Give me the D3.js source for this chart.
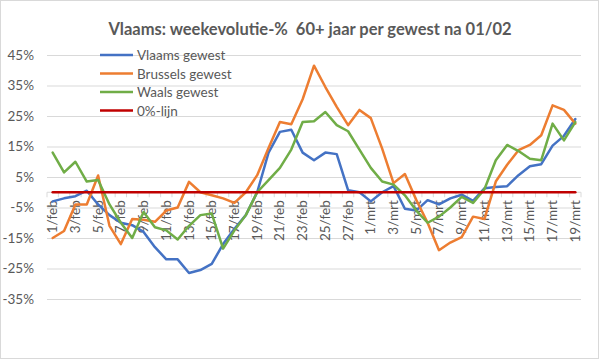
<!DOCTYPE html>
<html><head><meta charset="utf-8">
<script src="https://cdn.jsdelivr.net/npm/d3@7"></script>
<style>
html,body{margin:0;padding:0;background:#fff;}
text{font-family:Lato,"Liberation Sans",sans-serif;white-space:pre;}
</style></head>
<body>
<svg id="chart" width="599" height="359"></svg>
<script>
const categories = ["1/feb","2/feb","3/feb","4/feb","5/feb","6/feb","7/feb","8/feb","9/feb","10/feb","11/feb","12/feb","13/feb","14/feb","15/feb","16/feb","17/feb","18/feb","19/feb","20/feb","21/feb","22/feb","23/feb","24/feb","25/feb","26/feb","27/feb","28/feb","1/mrt","2/mrt","3/mrt","4/mrt","5/mrt","6/mrt","7/mrt","8/mrt","9/mrt","10/mrt","11/mrt","12/mrt","13/mrt","14/mrt","15/mrt","16/mrt","17/mrt","18/mrt","19/mrt"];
const vlaams = [-3,-2,-1.3,0.5,-4,-7.5,-10,-10.8,-13,-18,-22,-22,-26.5,-25.5,-23.5,-17,-12,-7.5,0,13,19.8,20.5,13,10.5,13,12.5,0.7,0,-3,0,2,-5.4,-6,-2.6,-4,-2,-0.8,-2.8,1.3,1.7,2,5.6,8.5,9.2,15.3,18.5,24];
const brussels = [-15,-12.7,-4,-4,5.5,-11,-17,-8.8,-9,-9.7,-6,-5,3.4,0,-1,-2,-3.5,0,5.6,14.5,23,22.3,30.5,41.5,34.5,28,22,27,24.3,14.3,3,6,-2.5,-10,-19,-16.5,-14.7,-8,-8.8,3.5,9,13.8,15.5,18.7,28.5,27,22.5];
const waals = [13,6.5,10,3.5,4,-4,-10,-15,-6.5,-11.5,-12.5,-15.5,-11,-7.5,-7,-18.5,-12.5,-7.5,0,4,8,14,23,23.3,26.3,22,20,14,8,3.5,2.5,-1,-6,-10,-8,-5,-1.5,-3.5,1,10.5,15.5,13.5,11,10.5,22.5,17,23];
const nullijn = categories.map(() => 0);
const yTicks = [-35,-25,-15,-5,5,15,25,35,45];
const seriesNames = ["Vlaams gewest","Brussels gewest","Waals gewest","0%-lijn"];

const series = [
  {name: seriesNames[0], values: vlaams, color: "#4472C4"},
  {name: seriesNames[1], values: brussels, color: "#ED7D31"},
  {name: seriesNames[2], values: waals, color: "#70AD47"},
  {name: seriesNames[3], values: nullijn, color: "#C00000"}
];

const svg = d3.select("#chart");
const W = 599, H = 359;
const mLeft = 47, mRight = 581, mTop = 55, mBottom = 299;
const gray = "#595959";
const FONT = "Lato,'Liberation Sans',sans-serif";

svg.append("rect").attr("x",0.5).attr("y",0.5).attr("width",W-1).attr("height",H-1)
  .attr("fill","#fff").attr("stroke","#d9d9d9");

svg.append("text").attr("x",310).attr("y",35).attr("text-anchor","middle")
  .attr("font-size","16.5px").attr("font-weight","bold").attr("fill",gray)
  .text("Vlaams: weekevolutie-%  60+ jaar per gewest na 01/02");

const x = d3.scaleBand().domain(categories).range([mLeft,mRight]).padding(0);
const y = d3.scaleLinear().domain([-35,45]).range([mBottom,mTop]);
const cx = c => x(c) + x.bandwidth()/2;

const yAxis = d3.axisLeft(y).tickValues(yTicks).tickSize(-(mRight-mLeft)).tickPadding(13)
  .tickFormat(d => d + "%");
const gy = svg.append("g").attr("transform",`translate(${mLeft},0)`).call(yAxis);
gy.select(".domain").remove();
gy.selectAll(".tick line").attr("stroke","#d9d9d9").attr("stroke-width",1);
gy.selectAll(".tick text").attr("fill",gray).attr("font-size","13.5px").attr("font-family",FONT);

const y0 = y(0);
const gx = svg.append("g");
gx.append("line").attr("x1",mLeft).attr("x2",mRight).attr("y1",y0).attr("y2",y0).attr("stroke","#d9d9d9");
gx.selectAll("line.tk").data(categories.concat(["__end"])).enter().append("line")
  .attr("class","tk")
  .attr("x1",d => d === "__end" ? mRight : x(d)).attr("x2",d => d === "__end" ? mRight : x(d))
  .attr("y1",y0).attr("y2",y0+5).attr("stroke","#d9d9d9");
gx.selectAll("text").data(categories.filter((c,i) => i % 2 === 0)).enter().append("text")
  .attr("transform",d => `translate(${cx(d)+4.5},${y0+8}) rotate(-90)`)
  .attr("text-anchor","end").attr("font-size","13.5px").attr("fill",gray)
  .text(d => d);

const line = d3.line().x((d,i) => cx(categories[i])).y(d => y(d));
series.forEach(s => {
  svg.append("path").datum(s.values).attr("d",line).attr("fill","none")
    .attr("stroke",s.color).attr("stroke-width",2.5).attr("stroke-linejoin","round").attr("stroke-linecap","round");
});

const lg = svg.append("g");
series.forEach((s,i) => {
  const ly = 55 + i*18.5;
  lg.append("line").attr("x1",100).attr("x2",133).attr("y1",ly).attr("y2",ly)
    .attr("stroke",s.color).attr("stroke-width",2.5);
  lg.append("text").attr("x",137).attr("y",ly+5).attr("font-size","13.5px").attr("fill",gray).text(s.name);
});
</script>
</body></html>
